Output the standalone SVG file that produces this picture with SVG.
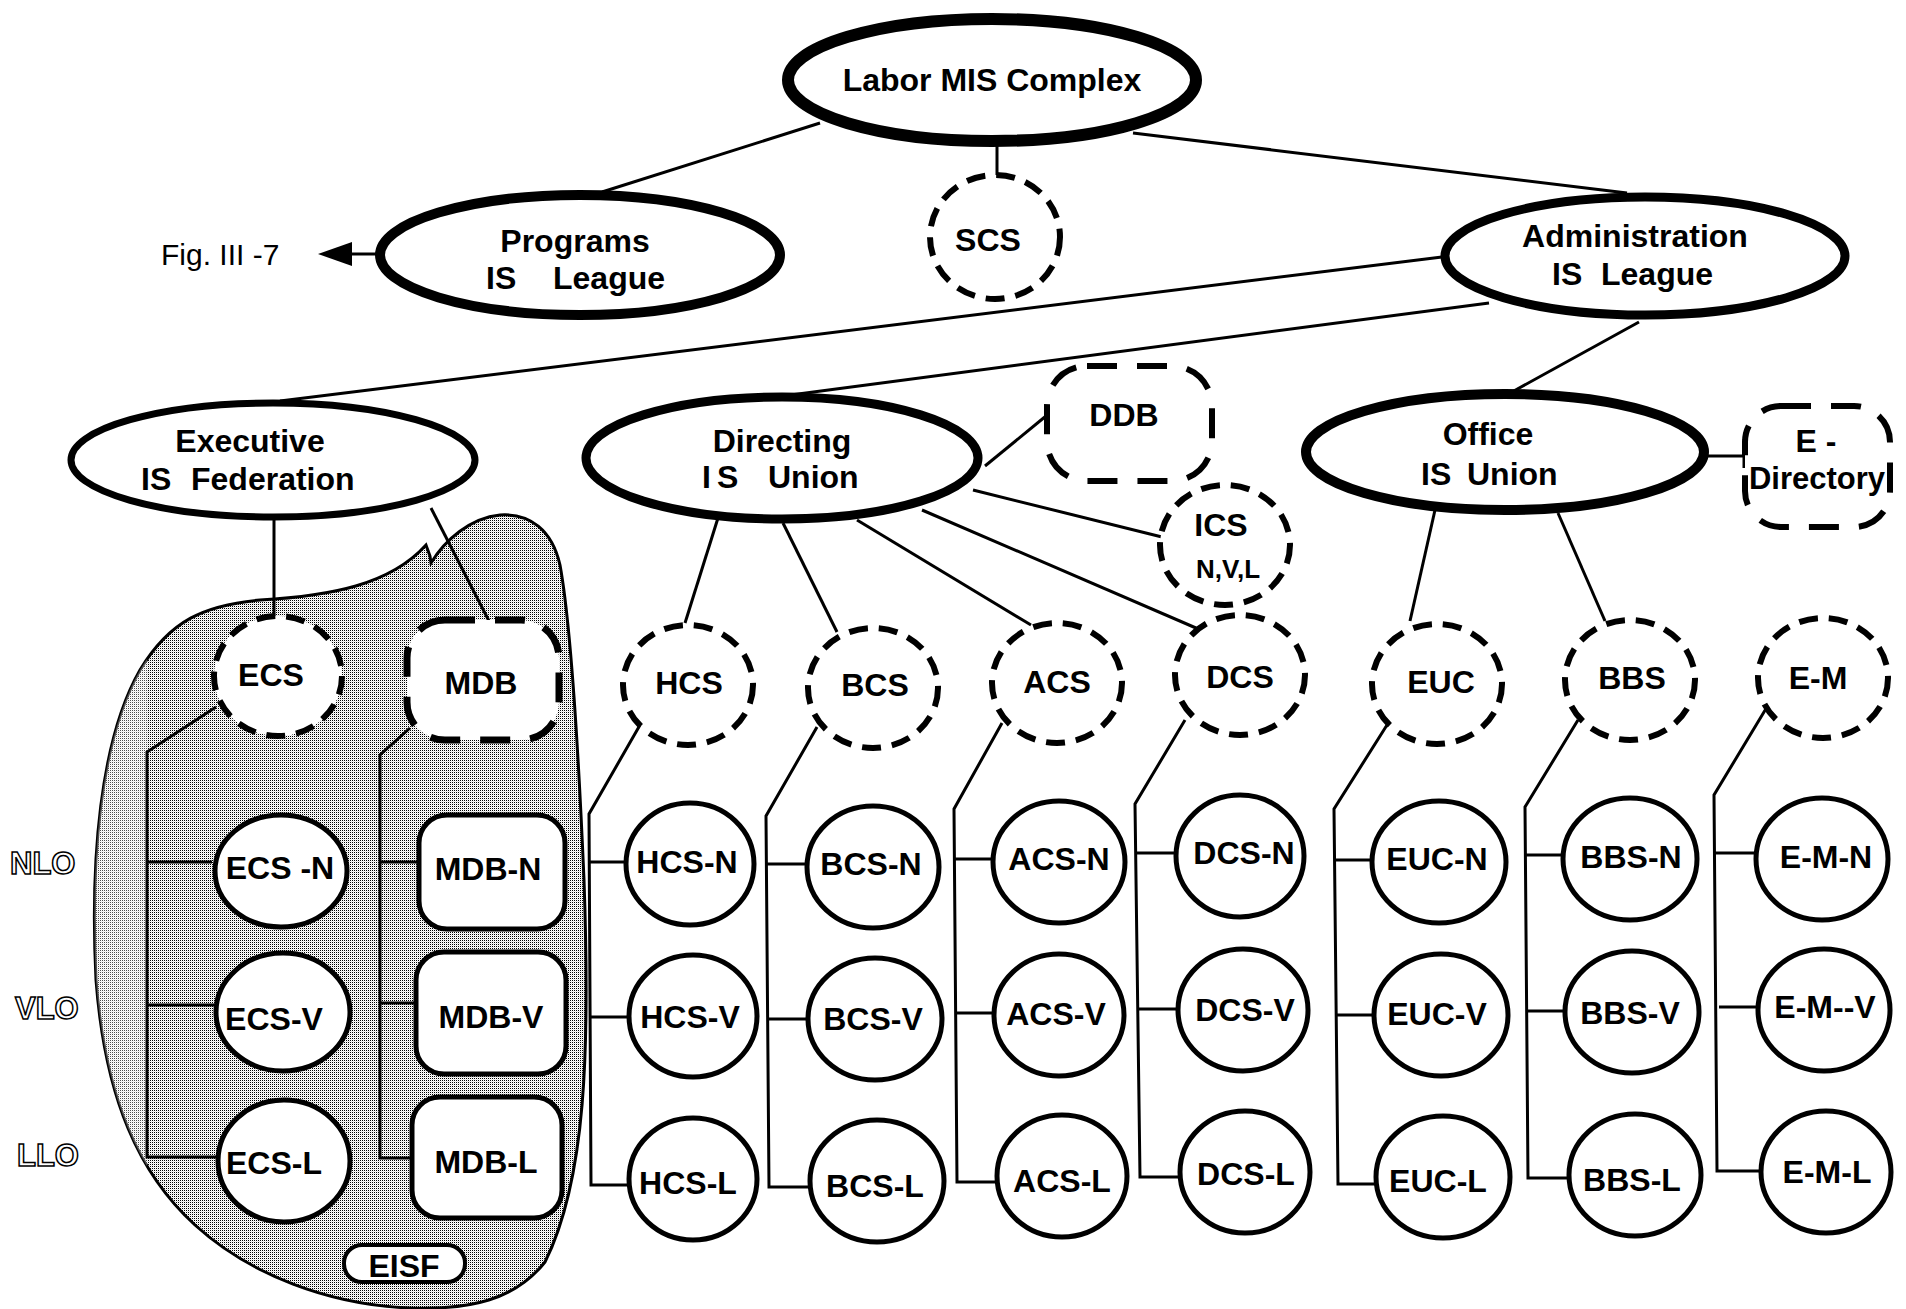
<svg xmlns="http://www.w3.org/2000/svg" width="1906" height="1309" viewBox="0 0 1906 1309">
<style>
.t{font-family:"Liberation Sans",Arial,Helvetica,sans-serif;font-weight:bold;font-size:32px;fill:#000;text-anchor:middle}
.ts{text-anchor:start}
.fig{font-family:"Liberation Sans",Arial,Helvetica,sans-serif;font-size:30px;fill:#000}
.side{font-family:"Liberation Sans",Arial,Helvetica,sans-serif;font-weight:bold;font-size:31px;fill:#fff;stroke:#000;stroke-width:1.5}
.big{fill:#fff;stroke:#000}
.dc{fill:#fff;stroke:#000;stroke-width:6;stroke-dasharray:19 11}
.dr{fill:#fff;stroke:#000;stroke-width:6;stroke-dasharray:30 20}
.c3{fill:#fff;stroke:#000;stroke-width:5}
.conn line,.conn polyline{stroke:#000;stroke-width:3;fill:none}
</style>
<defs>
<pattern id="stip" width="2" height="2" patternUnits="userSpaceOnUse">
<rect width="2" height="2" fill="#fff"/>
<rect x="0" y="0" width="1" height="1" fill="#000"/>
<rect x="1" y="1" width="1" height="1" fill="#e0e0e0"/>
</pattern>
<clipPath id="blobclip"><path d="M431,563 C445,540 470,518 500,515 C530,513 552,530 560,565 C570,620 578,740 584,880 C590,1050 586,1180 545,1262 C515,1300 470,1310 410,1308 C330,1305 250,1275 195,1225 C140,1175 105,1100 96,980 C90,860 100,740 140,670 C170,620 205,605 260,600 C330,596 390,585 426,545 L430,556 Z"/></clipPath>
</defs>
<rect width="1906" height="1309" fill="#fff"/>

<g id="eisf-region">
<path d="M431,563 C445,540 470,518 500,515 C530,513 552,530 560,565 C570,620 578,740 584,880 C590,1050 586,1180 545,1262 C515,1300 470,1310 410,1308 C330,1305 250,1275 195,1225 C140,1175 105,1100 96,980 C90,860 100,740 140,670 C170,620 205,605 260,600 C330,596 390,585 426,545 L430,556 Z" fill="url(#stip)" stroke="#000" stroke-width="3"/>
<rect x="90" y="640" width="57" height="600" fill="#fff" opacity="0.3" clip-path="url(#blobclip)"/>
</g>

<g id="connectors" class="conn">
<line x1="820" y1="123" x2="602" y2="192"/>
<line x1="997" y1="146" x2="997" y2="176"/>
<line x1="1133" y1="133" x2="1627" y2="193"/>
<line x1="350" y1="254" x2="380" y2="254"/>
<polygon points="318,254 352,242 352,266" fill="#000"/>
<line x1="1442" y1="257" x2="280" y2="401"/>
<line x1="1489" y1="303" x2="783" y2="396"/>
<line x1="1639" y1="322" x2="1512" y2="392"/>
<line x1="274" y1="518" x2="274" y2="618"/>
<line x1="431" y1="508" x2="489" y2="621"/>
<line x1="985" y1="466" x2="1046" y2="416"/>
<line x1="973" y1="490" x2="1162" y2="537"/>
<line x1="922" y1="510" x2="1196" y2="628"/>
<line x1="857" y1="520" x2="1031" y2="625"/>
<line x1="783" y1="523" x2="837" y2="632"/>
<line x1="718" y1="518" x2="685" y2="623"/>
<line x1="1435" y1="510" x2="1410" y2="621"/>
<line x1="1558" y1="513" x2="1605" y2="621"/>
<line x1="1704" y1="456" x2="1745" y2="456"/>
<line x1="1745" y1="439" x2="1745" y2="468" style="stroke-width:5"/>
<polyline points="216,707 147,752 147,1157 216,1157"/>
<line x1="147" y1="862" x2="212" y2="862"/>
<line x1="147" y1="1005" x2="214" y2="1005"/>
<polyline points="410,728 380,755 380,1158 412,1158"/>
<line x1="380" y1="862" x2="417" y2="862"/>
<line x1="380" y1="1003" x2="415" y2="1003"/>
<polyline points="640,725 589,814 591,1185 628,1185"/>
<line x1="589" y1="862" x2="626" y2="862"/>
<line x1="591" y1="1017" x2="628" y2="1017"/>
<polyline points="817,727 766,816 769,1187 809,1187"/>
<line x1="766" y1="864" x2="806" y2="864"/>
<line x1="767" y1="1019" x2="806" y2="1019"/>
<polyline points="1002,723 954,809 957,1182 996,1182"/>
<line x1="954" y1="859" x2="992" y2="859"/>
<line x1="956" y1="1013" x2="994" y2="1013"/>
<polyline points="1185,720 1135,804 1140,1177 1179,1177"/>
<line x1="1135" y1="853" x2="1175" y2="853"/>
<line x1="1138" y1="1009" x2="1177" y2="1009"/>
<polyline points="1387,725 1334,809 1338,1184 1375,1184"/>
<line x1="1335" y1="860" x2="1371" y2="860"/>
<line x1="1337" y1="1015" x2="1373" y2="1015"/>
<polyline points="1578,720 1525,807 1528,1178 1568,1178"/>
<line x1="1525" y1="855" x2="1562" y2="855"/>
<line x1="1527" y1="1011" x2="1564" y2="1011"/>
<polyline points="1767,707 1714,795 1717,1171 1761,1171"/>
<line x1="1715" y1="853" x2="1755" y2="853"/>
<line x1="1719" y1="1007" x2="1757" y2="1007"/>
</g>

<text class="fig" x="161" y="265">Fig. III -7</text>

<g id="labor"><ellipse class="big" cx="992" cy="80" rx="204" ry="61" stroke-width="12"/><text class="t" x="992" y="91">Labor MIS Complex</text></g>
<g id="programs"><ellipse class="big" cx="580" cy="255" rx="200" ry="60" stroke-width="10"/><text class="t" x="575" y="252">Programs</text><text class="t ts" y="289"><tspan x="486">IS</tspan><tspan x="553">League</tspan></text></g>
<g id="scs"><ellipse class="dc" cx="995" cy="237" rx="65" ry="62"/><text class="t" x="988" y="251">SCS</text></g>
<g id="admin"><ellipse class="big" cx="1645" cy="256" rx="200" ry="59" stroke-width="9"/><text class="t" x="1635" y="247">Administration</text><text class="t ts" y="285"><tspan x="1552">IS</tspan><tspan x="1601">League</tspan></text></g>
<g id="executive"><ellipse class="big" cx="273" cy="460" rx="202" ry="57" stroke-width="7"/><text class="t" x="250" y="452">Executive</text><text class="t ts" y="490"><tspan x="141">IS</tspan><tspan x="191">Federation</tspan></text></g>
<g id="directing"><ellipse class="big" cx="782" cy="458" rx="196" ry="61" stroke-width="9"/><text class="t" x="782" y="452">Directing</text><text class="t ts" y="488"><tspan x="702">I</tspan><tspan x="717">S</tspan><tspan x="768">Union</tspan></text></g>
<g id="office"><ellipse class="big" cx="1505" cy="452" rx="199" ry="58" stroke-width="10"/><text class="t" x="1488" y="445">Office</text><text class="t ts" y="485"><tspan x="1421">IS</tspan><tspan x="1467">Union</tspan></text></g>
<g id="ddb"><rect class="dr" x="1047" y="366" width="165" height="115" rx="40"/><text class="t" x="1124" y="426">DDB</text></g>
<g id="ics"><ellipse class="dc" cx="1225" cy="545" rx="65" ry="60"/><text class="t" x="1221" y="536">ICS</text><text class="t" x="1228" y="578" style="font-size:26px">N,V,L</text></g>
<g id="edirectory"><rect class="dr" x="1745" y="406" width="145" height="121" rx="36"/><text class="t" x="1816" y="452">E -</text><text class="t" x="1817" y="489" style="font-size:31px">Directory</text></g>

<g id="ecs"><ellipse class="dc" cx="278" cy="676" rx="64" ry="60"/><text class="t" x="271" y="686">ECS</text></g>
<g id="mdb"><rect class="dr" x="407" y="620" width="152" height="120" rx="38" style="stroke-width:7"/><text class="t" x="481" y="694">MDB</text></g>
<g id="hcs"><ellipse class="dc" cx="688" cy="685" rx="65" ry="60"/><text class="t" x="689" y="694">HCS</text></g>
<g id="bcs"><ellipse class="dc" cx="873" cy="688" rx="65" ry="60"/><text class="t" x="875" y="696">BCS</text></g>
<g id="acs"><ellipse class="dc" cx="1057" cy="683" rx="65" ry="60"/><text class="t" x="1057" y="693">ACS</text></g>
<g id="dcs"><ellipse class="dc" cx="1240" cy="675" rx="65" ry="60"/><text class="t" x="1240" y="688">DCS</text></g>
<g id="euc"><ellipse class="dc" cx="1437" cy="684" rx="65" ry="60"/><text class="t" x="1441" y="693">EUC</text></g>
<g id="bbs"><ellipse class="dc" cx="1630" cy="680" rx="65" ry="60"/><text class="t" x="1632" y="689">BBS</text></g>
<g id="em"><ellipse class="dc" cx="1823" cy="678" rx="65" ry="60"/><text class="t" x="1818" y="689">E-M</text></g>

<g id="ecs-n"><ellipse class="c3" cx="281" cy="871" rx="66" ry="56"/><text class="t" x="280" y="879">ECS -N</text></g>
<g id="ecs-v"><ellipse class="c3" cx="283" cy="1012" rx="67" ry="59"/><text class="t" x="274" y="1030">ECS-V</text></g>
<g id="ecs-l"><ellipse class="c3" cx="284" cy="1161" rx="66" ry="61"/><text class="t" x="274" y="1174">ECS-L</text></g>
<g id="mdb-n"><rect class="c3" x="419" y="815" width="146" height="114" rx="28"/><text class="t" x="488" y="880">MDB-N</text></g>
<g id="mdb-v"><rect class="c3" x="416" y="952" width="150" height="122" rx="28"/><text class="t" x="491" y="1028">MDB-V</text></g>
<g id="mdb-l"><rect class="c3" x="412" y="1097" width="150" height="121" rx="28"/><text class="t" x="486" y="1173">MDB-L</text></g>

<g id="hcs-n"><ellipse class="c3" cx="690" cy="864" rx="64" ry="61"/><text class="t" x="687" y="873">HCS-N</text></g>
<g id="hcs-v"><ellipse class="c3" cx="693" cy="1016" rx="64" ry="61"/><text class="t" x="690" y="1028">HCS-V</text></g>
<g id="hcs-l"><ellipse class="c3" cx="693" cy="1179" rx="64" ry="61"/><text class="t" x="688" y="1194">HCS-L</text></g>
<g id="bcs-n"><ellipse class="c3" cx="873" cy="867" rx="66" ry="61"/><text class="t" x="871" y="875">BCS-N</text></g>
<g id="bcs-v"><ellipse class="c3" cx="875" cy="1019" rx="67" ry="61"/><text class="t" x="873" y="1030">BCS-V</text></g>
<g id="bcs-l"><ellipse class="c3" cx="877" cy="1181" rx="67" ry="61"/><text class="t" x="875" y="1197">BCS-L</text></g>
<g id="acs-n"><ellipse class="c3" cx="1059" cy="862" rx="66" ry="61"/><text class="t" x="1059" y="870">ACS-N</text></g>
<g id="acs-v"><ellipse class="c3" cx="1059" cy="1015" rx="65" ry="61"/><text class="t" x="1056" y="1025">ACS-V</text></g>
<g id="acs-l"><ellipse class="c3" cx="1062" cy="1176" rx="65" ry="61"/><text class="t" x="1062" y="1192">ACS-L</text></g>
<g id="dcs-n"><ellipse class="c3" cx="1240" cy="856" rx="64" ry="61"/><text class="t" x="1244" y="864">DCS-N</text></g>
<g id="dcs-v"><ellipse class="c3" cx="1243" cy="1010" rx="65" ry="61"/><text class="t" x="1245" y="1021">DCS-V</text></g>
<g id="dcs-l"><ellipse class="c3" cx="1245" cy="1172" rx="65" ry="61"/><text class="t" x="1246" y="1185">DCS-L</text></g>
<g id="euc-n"><ellipse class="c3" cx="1439" cy="862" rx="67" ry="61"/><text class="t" x="1437" y="870">EUC-N</text></g>
<g id="euc-v"><ellipse class="c3" cx="1441" cy="1015" rx="67" ry="61"/><text class="t" x="1437" y="1025">EUC-V</text></g>
<g id="euc-l"><ellipse class="c3" cx="1443" cy="1177" rx="67" ry="61"/><text class="t" x="1438" y="1192">EUC-L</text></g>
<g id="bbs-n"><ellipse class="c3" cx="1630" cy="859" rx="67" ry="61"/><text class="t" x="1631" y="868">BBS-N</text></g>
<g id="bbs-v"><ellipse class="c3" cx="1632" cy="1012" rx="67" ry="61"/><text class="t" x="1630" y="1024">BBS-V</text></g>
<g id="bbs-l"><ellipse class="c3" cx="1635" cy="1175" rx="66" ry="61"/><text class="t" x="1632" y="1191">BBS-L</text></g>
<g id="em-n"><ellipse class="c3" cx="1822" cy="859" rx="66" ry="61"/><text class="t" x="1826" y="868">E-M-N</text></g>
<g id="em-v"><ellipse class="c3" cx="1824" cy="1010" rx="66" ry="61"/><text class="t" x="1825" y="1018">E-M--V</text></g>
<g id="em-l"><ellipse class="c3" cx="1826" cy="1172" rx="65" ry="61"/><text class="t" x="1827" y="1183">E-M-L</text></g>

<g id="eisf"><rect x="344" y="1245" width="121" height="37" rx="18" fill="#fff" stroke="#000" stroke-width="4"/><text class="t" x="404" y="1277">EISF</text></g>

<g id="levels">
<text class="side" x="10" y="874">NLO</text>
<text class="side" x="15" y="1019">VLO</text>
<text class="side" x="17" y="1166">LLO</text>
</g>
</svg>
